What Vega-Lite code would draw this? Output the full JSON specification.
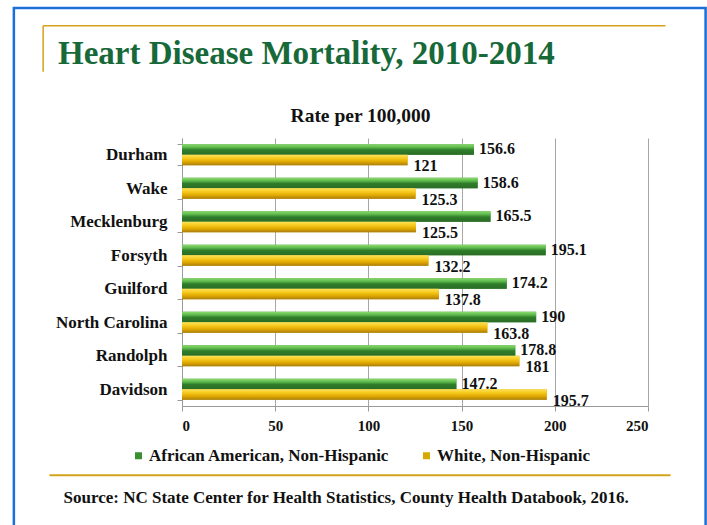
{
  "$schema": "https://vega.github.io/schema/vega-lite/v6.json",
  "width": 466,
  "height": 268,
  "autosize": {"type": "none"},
  "padding": {"left": 182, "top": 138, "right": 59, "bottom": 119},
  "background": "white",
  "config": {
    "font": "Liberation Serif",
    "view": {"stroke": null},
    "axis": {"labelFont": "Liberation Serif", "titleFont": "Liberation Serif"}
  },
  "title": {
    "text": "Heart Disease Mortality, 2010-2014",
    "anchor": "start",
    "frame": "group",
    "dx": -124,
    "offset": -64,
    "font": "Liberation Serif",
    "fontSize": 33,
    "fontWeight": "bold",
    "color": "#17693a"
  },
  "data": {
    "values": [
      {"county": "Durham", "group": "African American, Non-Hispanic", "rate": 156.6},
      {"county": "Durham", "group": "White, Non-Hispanic", "rate": 121},
      {"county": "Wake", "group": "African American, Non-Hispanic", "rate": 158.6},
      {"county": "Wake", "group": "White, Non-Hispanic", "rate": 125.3},
      {"county": "Mecklenburg", "group": "African American, Non-Hispanic", "rate": 165.5},
      {"county": "Mecklenburg", "group": "White, Non-Hispanic", "rate": 125.5},
      {"county": "Forsyth", "group": "African American, Non-Hispanic", "rate": 195.1},
      {"county": "Forsyth", "group": "White, Non-Hispanic", "rate": 132.2},
      {"county": "Guilford", "group": "African American, Non-Hispanic", "rate": 174.2},
      {"county": "Guilford", "group": "White, Non-Hispanic", "rate": 137.8},
      {"county": "North Carolina", "group": "African American, Non-Hispanic", "rate": 190},
      {"county": "North Carolina", "group": "White, Non-Hispanic", "rate": 163.8},
      {"county": "Randolph", "group": "African American, Non-Hispanic", "rate": 178.8},
      {"county": "Randolph", "group": "White, Non-Hispanic", "rate": 181},
      {"county": "Davidson", "group": "African American, Non-Hispanic", "rate": 147.2},
      {"county": "Davidson", "group": "White, Non-Hispanic", "rate": 195.7}
    ]
  },
  "resolve": {"scale": {"y": "independent"}, "axis": {"x": "independent"}},
  "layer": [
    {
      "encoding": {
        "y": {
          "field": "county",
          "type": "nominal",
          "sort": ["Durham", "Wake", "Mecklenburg", "Forsyth", "Guilford", "North Carolina", "Randolph", "Davidson"],
          "scale": {"paddingInner": 0.37, "paddingOuter": 0.185},
          "axis": {
            "title": null,
            "domainColor": "#9a9a9a",
            "tickColor": "#9a9a9a",
            "tickBand": "extent",
            "tickSize": 5,
            "labelPadding": 10,
            "labelFontSize": 17,
            "labelFontWeight": "bold",
            "labelColor": "#111111"
          }
        },
        "yOffset": {
          "field": "group",
          "type": "nominal",
          "sort": ["African American, Non-Hispanic", "White, Non-Hispanic"],
          "scale": {"paddingInner": 0, "paddingOuter": 0}
        },
        "x": {
          "field": "rate",
          "type": "quantitative",
          "scale": {"domain": [0, 250], "nice": false},
          "axis": {
            "values": [0, 50, 100, 150, 200, 250],
            "grid": true,
            "gridColor": "#a6a6a6",
            "domainColor": "#9a9a9a",
            "tickColor": "#9a9a9a",
            "tickSize": 5,
            "labelPadding": 7,
            "labelFontSize": 15,
            "labelFontWeight": "bold",
            "labelColor": "#111111",
            "title": "Source: NC State Center for Health Statistics, County Health Databook, 2016.",
            "titleX": -119,
            "titleY": 96,
            "titleAlign": "left",
            "titleBaseline": "alphabetic",
            "titleFontSize": 17,
            "titleFontWeight": "bold",
            "titleColor": "#111111"
          }
        }
      },
      "layer": [
        {
          "mark": {"type": "bar"},
          "encoding": {
            "color": {
              "field": "group",
              "type": "nominal",
              "scale": {
                "domain": ["African American, Non-Hispanic", "White, Non-Hispanic"],
                "range": ["#3a8f30", "#d9a800"]
              },
              "legend": {
                "title": null,
                "orient": "none",
                "legendX": -52,
                "legendY": 309,
                "direction": "horizontal",
                "symbolType": "square",
                "symbolSize": 49,
                "symbolStrokeWidth": 0,
                "labelFont": "Liberation Serif",
                "labelFontSize": 17,
                "labelFontWeight": "bold",
                "labelColor": "#111111",
                "labelOffset": 2,
                "labelLimit": 0,
                "columnPadding": 28
              }
            }
          }
        },
        {
          "transform": [{"filter": "datum.group === 'African American, Non-Hispanic'"}],
          "mark": {"type": "bar", "color": {"gradient": "linear", "x1": 0, "y1": 0, "x2": 0, "y2": 1,
                   "stops": [{"offset": 0, "color": "#8fdc72"}, {"offset": 0.3, "color": "#5cb84a"}, {"offset": 0.55, "color": "#2f7d2b"}, {"offset": 1, "color": "#2a6c25"}]}}
        },
        {
          "transform": [{"filter": "datum.group === 'White, Non-Hispanic'"}],
          "mark": {"type": "bar", "color": {"gradient": "linear", "x1": 0, "y1": 0, "x2": 0, "y2": 1,
                   "stops": [{"offset": 0, "color": "#fde35c"}, {"offset": 0.35, "color": "#f6c81a"}, {"offset": 0.7, "color": "#dca400"}, {"offset": 1, "color": "#a67c12"}]}}
        },
        {
          "transform": [{"filter": "datum.group === 'African American, Non-Hispanic'"}],
          "mark": {"type": "text", "align": "left", "baseline": "middle", "dx": 5, "dy": 0, "fontSize": 16, "fontWeight": "bold", "color": "#111111"},
          "encoding": {"text": {"field": "rate", "type": "quantitative"}}
        },
        {
          "transform": [{"filter": "datum.group === 'White, Non-Hispanic'"}],
          "mark": {"type": "text", "align": "left", "baseline": "middle", "dx": 6, "dy": 6, "fontSize": 16, "fontWeight": "bold", "color": "#111111"},
          "encoding": {"text": {"field": "rate", "type": "quantitative"}}
        }
      ]
    },
    {
      "data": {"values": [{}]},
      "layer": [
        {
          "mark": {"type": "rect", "fillOpacity": 0, "stroke": "#1c6fd8", "strokeWidth": 2.5},
          "encoding": {
            "x": {"datum": -90.2, "type": "quantitative", "scale": {"domain": [0, 250], "nice": false},
                  "axis": {"orient": "top", "labels": false, "ticks": false, "domain": false, "grid": false,
                           "title": "Rate per 100,000", "titleX": 178, "titleY": -17, "titleAlign": "center", "titleBaseline": "alphabetic",
                           "titleFontSize": 19.5, "titleFontWeight": "bold", "titleColor": "#111111", "titleFont": "Liberation Serif"}},
            "x2": {"datum": 280.9},
            "y": {"datum": -4, "type": "quantitative", "scale": {"domain": [0, 8], "nice": false, "zero": false}, "axis": null},
            "y2": {"datum": 11.88}
          }
        },
        {
          "mark": {"type": "rule", "color": "#d4a21a", "strokeWidth": 1.5},
          "encoding": {
            "x": {"datum": -74.5, "type": "quantitative", "scale": {"domain": [0, 250], "nice": false}},
            "x2": {"datum": 259.4},
            "y": {"datum": 11.35, "type": "quantitative", "scale": {"domain": [0, 8], "nice": false, "zero": false}, "axis": null}
          }
        },
        {
          "mark": {"type": "rule", "color": "#d4a21a", "strokeWidth": 1.5},
          "encoding": {
            "x": {"datum": -74.5, "type": "quantitative", "scale": {"domain": [0, 250], "nice": false}},
            "y": {"datum": 11.35, "type": "quantitative", "scale": {"domain": [0, 8], "nice": false, "zero": false}, "axis": null},
            "y2": {"datum": 9.98}
          }
        },
        {
          "mark": {"type": "rule", "color": "#d4a21a", "strokeWidth": 2},
          "encoding": {
            "x": {"datum": -71.1, "type": "quantitative", "scale": {"domain": [0, 250], "nice": false}},
            "x2": {"datum": 262.1},
            "y": {"datum": -2.07, "type": "quantitative", "scale": {"domain": [0, 8], "nice": false, "zero": false}, "axis": null}
          }
        }
      ]
    }
  ]
}
